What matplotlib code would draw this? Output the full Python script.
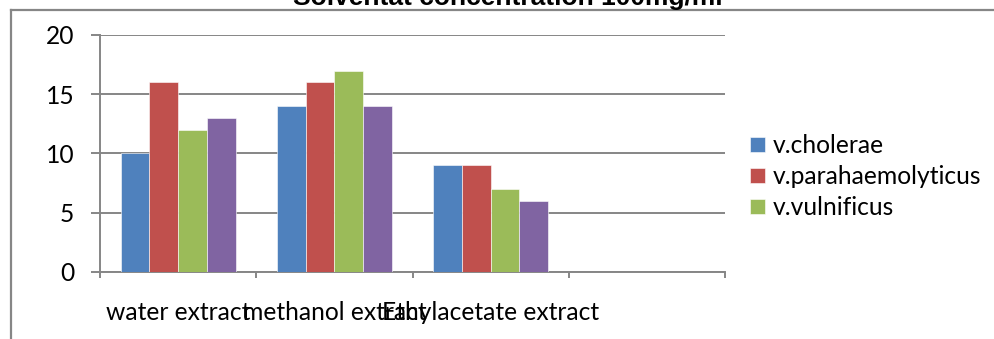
import numpy as np
import matplotlib.pyplot as plt
from matplotlib.lines import Line2D

extracts = ["water extract", "methanol extract", "Ethylacetate extract", ""]
species = ["v.cholerae", "v.parahaemolyticus", "v.vulnificus", "series 4"]
cholerae = [10, 14, 9, 0]
parahaemolyticus = [16, 16, 9, 0]
vulnificus = [12, 17, 7, 0]
series4 = [13, 14, 6, 0]
values = [cholerae, parahaemolyticus, vulnificus, series4]
colors = ["#4F81BD", "#C0504D", "#9BBB59", "#8064A2"]

plt.rcParams['font.family'] = ['Lato', 'DejaVu Sans']
grey = "#868686"

W, H = 994, 339
fig = plt.figure(figsize=(W / 100, H / 100), dpi=100)
ax = fig.add_axes([100 / W, (H - 271.7) / H, 625 / W, 236.7 / H])

x = np.arange(len(extracts))
w = 0.1838
bars = []
for k, (vals, c) in enumerate(zip(values, colors)):
    b = ax.bar(x + (k - 1.5) * w, vals, w, color=c, edgecolor="white",
               linewidth=0.4, zorder=3)
    bars.append(b)

ax.set_xlim(-0.5, 3.5)
ax.set_ylim(0, 20)
ax.set_yticks([0, 5, 10, 15, 20])
ax.grid(axis="y", color=grey, linewidth=1.4, zorder=0)
for s in ["top", "right"]:
    ax.spines[s].set_visible(False)
for s in ["left", "bottom"]:
    ax.spines[s].set_color(grey)
    ax.spines[s].set_linewidth(1.4)
ax.tick_params(axis="y", length=6.5, width=1.4, color=grey, labelsize=17.7, pad=12)
ax.set_xticks(np.arange(-0.5, 4.0, 1.0))
ax.set_xticklabels([])
ax.tick_params(axis="x", which="major", length=4.5, width=1.4, color=grey)
ax.set_xticks(x, minor=True)
ax.set_xticklabels(extracts, minor=True)
ax.tick_params(axis="x", which="minor", length=0, labelsize=17.7, pad=21)

fig.legend(bars[:3], species[:3], loc="upper left",
           bbox_to_anchor=(750 / W, 1 - 134 / H), frameon=False,
           fontsize=17.7, handlelength=0.61, handleheight=0.53,
           handletextpad=0.3, labelspacing=0.33, borderpad=0,
           borderaxespad=0)

# outer chart frame (partly cut off)
fig.add_artist(Line2D([10.5 / W, 1.0], [1 - 10 / H, 1 - 10 / H],
                      transform=fig.transFigure, color=grey, linewidth=1.6))
fig.add_artist(Line2D([10.5 / W, 10.5 / W], [0, 1 - 10 / H],
                      transform=fig.transFigure, color=grey, linewidth=1.6))

fig.text(508 / W, 1 - 5 / H, "Solventat concentration 100mg/ml",
         ha="center", va="baseline", fontsize=19, fontweight="bold",
         family=["Liberation Sans", "DejaVu Sans"])

fig.savefig("out.png", dpi=100)
